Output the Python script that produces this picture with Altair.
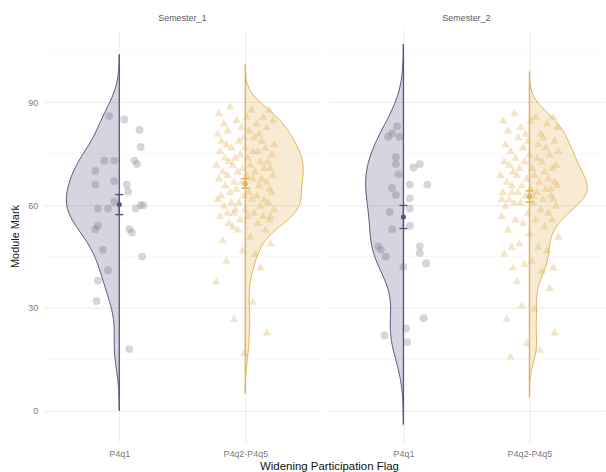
import altair as alt
import numpy as np
import pandas as pd

# ---- data -------------------------------------------------------------
semesters = ["Semester_1", "Semester_2"]
flags = ["P4q1", "P4q2-P4q5"]

# Module marks of P4q1 students and their horizontal jitter (category units)
s1_p4q1_marks = [86, 85, 82, 77, 73, 73, 73, 72, 70, 67, 66, 66, 64, 61, 60,
                 60, 59, 59, 59, 54, 53, 53, 52, 47, 45, 41, 38, 32, 18]
s1_p4q1_jitter = [-0.08, 0.04, 0.16, 0.17, -0.12, -0.04, 0.12, 0.14, -0.19,
                  -0.04, 0.06, -0.19, 0.07, -0.04, 0.17, 0.19, 0.13, -0.17,
                  -0.09, -0.17, -0.19, 0.08, 0.10, -0.13, 0.18, -0.09, -0.17,
                  -0.18, 0.08]

s2_p4q1_marks = [83, 81, 80, 80, 74, 72, 71, 72, 69, 66, 66, 65, 63, 62, 59,
                 58, 54, 53, 48, 47, 45, 48, 46, 43, 42, 27, 24, 22, 20]
s2_p4q1_jitter = [-0.05, -0.09, -0.12, -0.03, -0.06, -0.06, 0.08, 0.13, -0.04,
                  0.19, 0.05, -0.09, -0.06, 0.05, 0.05, -0.11, 0.05, -0.09,
                  -0.20, -0.18, -0.14, 0.13, 0.13, 0.18, 0.00, 0.16, 0.02,
                  -0.15, 0.03]

# Module marks of P4q2-P4q5 students
s1_p4q5_marks = [89, 88, 88, 87, 86, 86,
                 85, 85, 84, 84, 83, 83, 82, 82, 81, 81, 58, 57,
                 80, 80, 79, 79, 79, 78, 78, 77, 77, 77, 76, 76, 76,
                 75, 75, 74, 74, 74, 73, 73, 73, 72, 72, 72, 71, 71, 71,
                 70, 70, 70, 69, 69, 69, 68, 68, 68, 67, 67, 67, 66, 66,
                 65, 65, 64, 64, 64, 63, 63, 63, 62, 62, 62, 61, 61, 61,
                 60, 60, 59, 59, 59, 58, 58, 57, 57, 57, 56, 56,
                 55, 55, 54, 53, 53, 51,
                 50, 49, 47, 46, 44, 42, 38, 32, 27, 23, 17]

s2_p4q5_marks = [87, 86, 86,
                 85, 85, 84, 83, 83, 82, 81, 81, 65, 64, 63, 62,
                 80, 80, 79, 79, 78, 78, 77, 77, 76, 76,
                 75, 75, 74, 74, 73, 73, 73, 72, 72, 71, 71, 71,
                 70, 70, 69, 69, 69, 68, 68, 67, 67, 67, 66, 66, 66,
                 65, 65, 64, 64, 64, 63, 63, 62, 62, 62, 61, 61, 61,
                 60, 60, 59, 58, 58, 57, 56, 56, 56,
                 55, 54, 53, 52, 51,
                 49, 48, 48, 47, 46, 44, 43, 42, 42, 41, 38, 36, 31, 30,
                 27, 23, 20, 18, 16]

# Horizontal jitter of the triangles (category units)
tri_jitter = [-0.12, 0.05, 0.19, -0.21, 0.01, 0.14, -0.07, 0.22, -0.17, 0.09,
              -0.03, 0.17, -0.14, 0.03, -0.22, 0.11, -0.09, 0.20, -0.01, 0.07,
              -0.19, 0.13, -0.05, 0.23, -0.15, 0.00, 0.16, -0.11, 0.06, -0.20,
              0.10, -0.04, 0.21, -0.16, 0.02, -0.08, 0.18, -0.13, 0.12, -0.23,
              0.04, -0.10, 0.15, -0.02, 0.20, -0.18, 0.08, -0.06, 0.22, -0.14,
              0.01, 0.13, -0.21, 0.06, -0.09, 0.17, -0.03, 0.11, -0.16, 0.19,
              -0.07, 0.03, -0.12, 0.21, -0.19, 0.09, -0.01, 0.15, -0.22, 0.05,
              -0.11, 0.18, -0.05, 0.12, -0.17, 0.00, 0.23, -0.08, 0.07, -0.14,
              0.14, -0.20, 0.02, -0.04, 0.19, -0.13, 0.10, -0.10, 0.16, -0.06,
              0.04, -0.18, 0.20, -0.02, 0.08, -0.15, 0.12, -0.23, 0.06, -0.09,
              0.17, -0.01]

y_ticks = [0, 30, 60, 90]
minor_ticks = [15, 45, 75, 105]

# ---- styling parameters ---------------------------------------------
line_colors = ["#57547f", "#e2b054"]
point_colors = ["#8a8a9e", "#e4b860"]
shapes = ["circle", "triangle-up"]
bandwidth = {("Semester_1", 0): 6.0, ("Semester_1", 1): 4.0,
             ("Semester_2", 0): 8.0, ("Semester_2", 1): 4.0}
# widest half-violin extent of each group, in category units
half_width = {("Semester_1", 0): 0.42, ("Semester_1", 1): 0.46,
              ("Semester_2", 0): 0.30, ("Semester_2", 1): 0.46}
FONT = "Liberation Sans"

groups = {
    ("Semester_1", 0): (s1_p4q1_marks, s1_p4q1_jitter),
    ("Semester_1", 1): (s1_p4q5_marks, tri_jitter),
    ("Semester_2", 0): (s2_p4q1_marks, s2_p4q1_jitter),
    ("Semester_2", 1): (s2_p4q5_marks, tri_jitter),
}

# ---- derived tables -------------------------------------------------
point_rows, violin_rows = [], []
for (sem, pos), (marks, jit) in groups.items():
    for m, j in zip(marks, jit):
        point_rows.append({"semester": sem, "flag": flags[pos], "pos": pos,
                           "xj": pos + j, "mark": m})
    # gaussian kernel density, extended three bandwidths past the data
    bw = bandwidth[(sem, pos)]
    arr = np.asarray(marks, dtype=float)
    grid = np.linspace(arr.min() - 3 * bw, arr.max() + 3 * bw, 200)
    dens = np.exp(-0.5 * ((grid[:, None] - arr[None, :]) / bw) ** 2).sum(axis=1)
    dens = dens / dens.max() * half_width[(sem, pos)]
    side = -1 if pos == 0 else 1
    for k, (g, d) in enumerate(zip(grid, dens)):
        violin_rows.append({"semester": sem, "flag": flags[pos], "pos": pos,
                            "k": k, "yv": float(g),
                            "edge": pos + side * float(d)})

points = pd.DataFrame(point_rows)
violins = pd.DataFrame(violin_rows)

# ---- scales & axes --------------------------------------------------
xscale = alt.Scale(domain=[-0.6, 1.6], nice=False, zero=False)
yscale = alt.Scale(domain=[-9.3, 111.3], nice=False, zero=False)
line_scale = alt.Scale(domain=flags, range=line_colors)
pt_scale = alt.Scale(domain=flags, range=point_colors)
shape_scale = alt.Scale(domain=flags, range=shapes)
size_scale = alt.Scale(domain=flags, range=[62, 72])
label_expr = f"datum.value == 0 ? '{flags[0]}' : '{flags[1]}'"


def x_axis():
    return alt.Axis(values=[0, 1], labelExpr=label_expr, title=None, grid=True,
                    ticks=False, domain=False, labelPadding=7, labelFontSize=9,
                    labelColor="#7a7a7a", labelFont=FONT, gridColor="#ebebeb",
                    gridWidth=1)


def y_axis(show):
    return alt.Axis(values=y_ticks, title="Module Mark" if show else None,
                    labels=show, ticks=False, domain=False, grid=True,
                    gridColor="#ebebeb", gridWidth=1, labelPadding=6,
                    labelFontSize=9, labelColor="#7a7a7a", labelFont=FONT,
                    titleFont=FONT, titleFontSize=11, titleFontWeight="normal",
                    titleColor="#1a1a1a", titlePadding=7)


def panel(sem, show_y):
    pts = points[points.semester == sem]
    vio = violins[violins.semester == sem]
    yax = y_axis(show_y)
    xax = x_axis()
    col = alt.Color("flag:N", scale=line_scale, legend=None)

    minor = alt.Chart(pd.DataFrame({"v": minor_ticks})).mark_rule(
        color="#f3f3f3", strokeWidth=0.7
    ).encode(y=alt.Y("v:Q", scale=yscale, axis=yax))

    # jittered raw marks (fill channel keeps their palette apart from the lines)
    dots = alt.Chart(pts).mark_point(filled=True, opacity=0.36,
                                     strokeWidth=0).encode(
        x=alt.X("xj:Q", scale=xscale, axis=xax),
        y=alt.Y("mark:Q", scale=yscale, axis=yax),
        fill=alt.Fill("flag:N", scale=pt_scale, legend=None),
        shape=alt.Shape("flag:N", scale=shape_scale, legend=None),
        size=alt.Size("flag:N", scale=size_scale, legend=None),
    )

    # half-violin fill
    fill = alt.Chart(vio).mark_area(
        orient="horizontal", opacity=0.25, strokeWidth=0
    ).encode(
        y=alt.Y("yv:Q", scale=yscale, axis=yax),
        x=alt.X("edge:Q", scale=xscale, axis=xax, stack=None),
        x2="pos:Q",
        color=col,
    )
    # curved outline and flat side of each half-violin
    outline = alt.Chart(vio).mark_line(strokeWidth=1.0).encode(
        y=alt.Y("yv:Q", scale=yscale, axis=yax),
        x=alt.X("edge:Q", scale=xscale, axis=xax),
        color=col,
        order=alt.Order("k:Q"),
    )
    spine = alt.Chart(vio).mark_rule(strokeWidth=1.3).encode(
        x=alt.X("pos:Q", scale=xscale, axis=xax),
        y=alt.Y("min(yv):Q", scale=yscale, axis=yax),
        y2="max(yv):Q",
        color=col,
    )

    summary = alt.Chart(pts).transform_aggregate(
        m="mean(mark)", se="stderr(mark)", groupby=["pos", "flag"]
    ).transform_calculate(
        lo="datum.m - datum.se", hi="datum.m + datum.se",
        xl="datum.pos - 0.032", xr="datum.pos + 0.032",
    )
    stem = summary.mark_rule(strokeWidth=1.4).encode(
        x=alt.X("pos:Q", scale=xscale, axis=xax),
        y=alt.Y("lo:Q", scale=yscale, axis=yax), y2="hi:Q",
        color=col,
    )
    cap_lo = summary.mark_rule(strokeWidth=1.4).encode(
        x=alt.X("xl:Q", scale=xscale, axis=xax), x2="xr:Q",
        y=alt.Y("lo:Q", scale=yscale, axis=yax),
        color=col,
    )
    cap_hi = summary.mark_rule(strokeWidth=1.4).encode(
        x=alt.X("xl:Q", scale=xscale, axis=xax), x2="xr:Q",
        y=alt.Y("hi:Q", scale=yscale, axis=yax),
        color=col,
    )
    mean_pt = summary.mark_circle(size=26, opacity=1).encode(
        x=alt.X("pos:Q", scale=xscale, axis=xax),
        y=alt.Y("m:Q", scale=yscale, axis=yax),
        color=col,
    )

    return alt.layer(minor, dots, fill, outline, spine, stem, cap_lo, cap_hi,
                     mean_pt).properties(
        width=279, height=416,
        title=alt.TitleParams(sem, fontSize=9, fontWeight="normal", color="#5a5a5a",
                              font=FONT, anchor="middle", offset=6),
    )


chart = alt.hconcat(
    panel(semesters[0], True), panel(semesters[1], False), spacing=5
).properties(
    title=alt.TitleParams("Widening Participation Flag", orient="bottom",
                          anchor="middle", fontSize=11.5, fontWeight="normal",
                          font=FONT, color="#111111", offset=3, dx=22),
    padding={"left": 9, "top": 13, "right": 0, "bottom": 0},
).configure(background="white").configure_view(stroke=None)

chart.save("out.html", embed_options={"renderer": "svg", "actions": False})
